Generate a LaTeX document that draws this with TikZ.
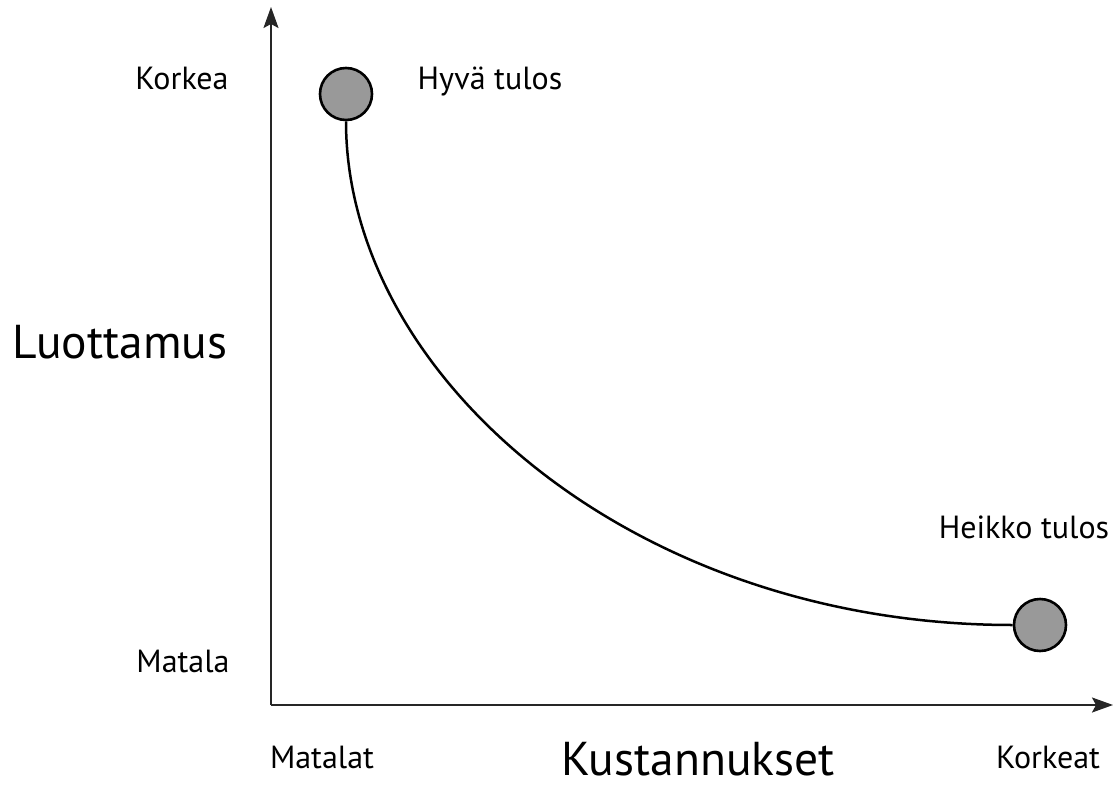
\documentclass[tikz,border=0pt]{standalone}
\usepackage{fontspec}
\setmainfont{PT Sans}
\usetikzlibrary{arrows.meta}
\begin{document}
\begin{tikzpicture}[x=1pt,y=-1pt,
  axis/.style={line width=2pt,draw=black!85,-{Stealth[length=21pt,width=15pt,inset=4pt]}},
  dot/.style={circle,draw=black,line width=2.6pt,fill=black!40,minimum size=52pt,inner sep=0pt},
  small/.style={anchor=base,inner sep=0pt,font=\fontsize{32}{38}\selectfont},
  big/.style={anchor=base,inner sep=0pt,text depth=0pt,font=\fontsize{47.5}{56}\selectfont},
  curve/.style={line width=2.5pt,draw=black}]
\useasboundingbox (0,0) rectangle (1120,787);
\fill[white] (0,0) rectangle (1120,787);
\coordinate (o) at (271,705);
\coordinate (ytip) at (271,7);
\coordinate (xtip) at (1113,705);
\draw[axis] (o) -- (ytip);
\draw[axis] (o) -- (xtip);
\node[dot] (good) at (346,94) {};
\node[dot] (poor) at (1040,625) {};
\draw[curve] (good.south) .. controls +(0,255) and +(-380,0) .. (poor.west);
\node[small] (ko) at (182,89) {Korkea};
\node[small] (ma) at (183,672) {Matala};
\node[small] (hy) at (490,89) {Hyvä tulos};
\node[small] (he) at (1024,538) {Heikko tulos};
\node[small] (mt) at (322,768) {Matalat};
\node[small] (kt) at (1048,768) {Korkeat};
\node[big] (lu) at (120,358) {Luottamus};
\node[big] (ku) at (698,775) {Kustannukset};
\end{tikzpicture}
\end{document}
